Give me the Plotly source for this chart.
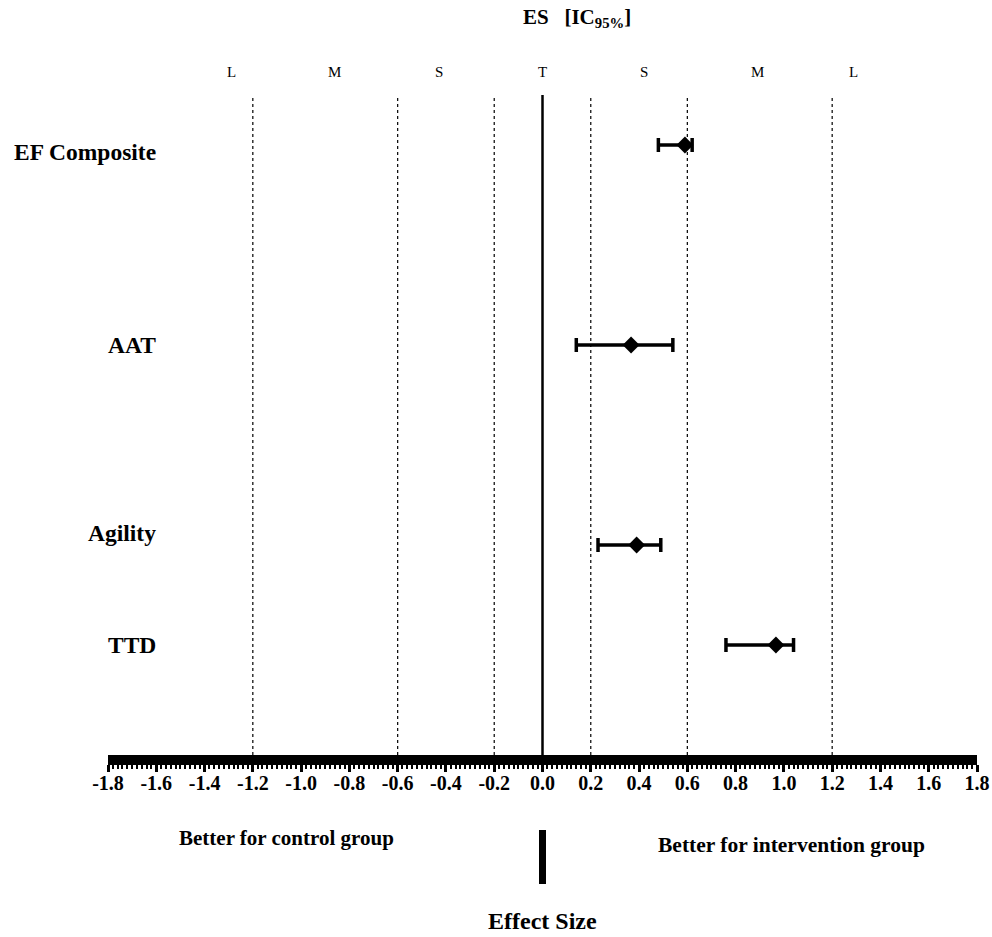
import plotly.graph_objects as go

# ---- data ----
outcomes = ["EF Composite", "AAT", "Agility", "TTD"]
outcome_pos = [6.0, 4.0, 2.0, 1.0]
es = [0.59, 0.367, 0.39, 0.967]
ci_low = [0.48, 0.14, 0.23, 0.76]
ci_high = [0.62, 0.54, 0.49, 1.04]

threshold_vals = [-1.2, -0.6, -0.2, 0.2, 0.6, 1.2]
magnitude_labels = ["L", "M", "S", "T", "S", "M", "L"]
magnitude_pos = [-1.29, -0.86, -0.43, 0.0, 0.42, 0.89, 1.29]

tick_vals = [round(-1.8 + 0.2 * i, 1) for i in range(19)]
tick_text = ["<b>%.1f</b>" % v for v in tick_vals]

SERIF = "Liberation Serif, Times New Roman, serif"
Y_TOP, Y_BOT = 6.5, -0.1
TOP_PX, BOT_PX = 95, 755
PLOT_H = float(BOT_PX - TOP_PX)


def py(pix):
    """paper y for a pixel row"""
    return (BOT_PX - pix) / PLOT_H


fig = go.Figure()

fig.add_trace(go.Scatter(
    x=es, y=outcome_pos, mode="markers",
    marker=dict(symbol="diamond", size=13, color="black"),
    error_x=dict(type="data", symmetric=False,
                 array=[h - e for h, e in zip(ci_high, es)],
                 arrayminus=[e - l for e, l in zip(es, ci_low)],
                 color="black", thickness=3.5, width=7),
    showlegend=False, hoverinfo="skip",
))

shapes = []
for t in threshold_vals:
    shapes.append(dict(type="line", xref="x", yref="y", x0=t, x1=t, y0=Y_BOT, y1=Y_TOP,
                       line=dict(color="black", width=1.2, dash="dot"), layer="below"))
shapes.append(dict(type="line", xref="x", yref="y", x0=0, x1=0, y0=Y_BOT, y1=Y_TOP,
                   line=dict(color="black", width=2.5), layer="below"))
# thick marker below axis
shapes.append(dict(type="line", xref="x", yref="paper", x0=0, x1=0,
                   y0=py(830), y1=py(884),
                   line=dict(color="black", width=7)))

annotations = []
label_shift = [-7, 0, 12, 0]
for name, p, s in zip(outcomes, outcome_pos, label_shift):
    annotations.append(dict(x=-1.593, y=p, xref="x", yref="y", text="<b>%s</b>" % name,
                            showarrow=False, xanchor="right", yanchor="middle", yshift=s,
                            font=dict(family=SERIF, size=23.5, color="black")))
for lab, p in zip(magnitude_labels, magnitude_pos):
    annotations.append(dict(x=p, y=py(72), xref="x", yref="paper", yanchor="middle",
                            text=lab, showarrow=False,
                            font=dict(family=SERIF, size=15, color="black")))

annotations.append(dict(x=0.0, y=py(18), xref="x", yref="paper", yanchor="middle",
                        text="<b>ES   [IC<sub>95%</sub>]</b>", showarrow=False, xshift=34,
                        font=dict(family=SERIF, size=21, color="black")))
annotations.append(dict(x=-1.06, y=py(838), xref="x", yref="paper", yanchor="middle",
                        text="<b>Better for control group</b>", showarrow=False,
                        font=dict(family=SERIF, size=21, color="black")))
annotations.append(dict(x=1.03, y=py(845), xref="x", yref="paper", yanchor="middle",
                        text="<b>Better for intervention group</b>", showarrow=False,
                        font=dict(family=SERIF, size=21.5, color="black")))
annotations.append(dict(x=0.0, y=py(921), xref="x", yref="paper", yanchor="middle",
                        text="<b>Effect Size</b>", showarrow=False,
                        font=dict(family=SERIF, size=24, color="black")))

fig.update_layout(
    width=992, height=937,
    margin=dict(l=108, r=15, t=TOP_PX, b=937 - BOT_PX, autoexpand=False),
    paper_bgcolor="white", plot_bgcolor="white",
    shapes=shapes, annotations=annotations,
    xaxis=dict(range=[-1.8, 1.8], tickvals=tick_vals, ticktext=tick_text, automargin=False,
               showgrid=False, zeroline=False, showline=True, linecolor="black", linewidth=10,
               ticks="outside", ticklen=7, tickwidth=3, tickcolor="black",
               minor=dict(dtick=0.02, tick0=0, ticks="outside", ticklen=4, tickwidth=2,
                          tickcolor="black", showgrid=False),
               ticklabelstandoff=-6,
               tickfont=dict(family=SERIF, size=20, color="black")),
    yaxis=dict(range=[Y_BOT, Y_TOP], visible=False, automargin=False),
    showlegend=False,
)

fig.write_html("out.html", config={"displayModeBar": False},
               post_script="document.body.style.margin='0px';document.body.style.overflow='hidden';")
